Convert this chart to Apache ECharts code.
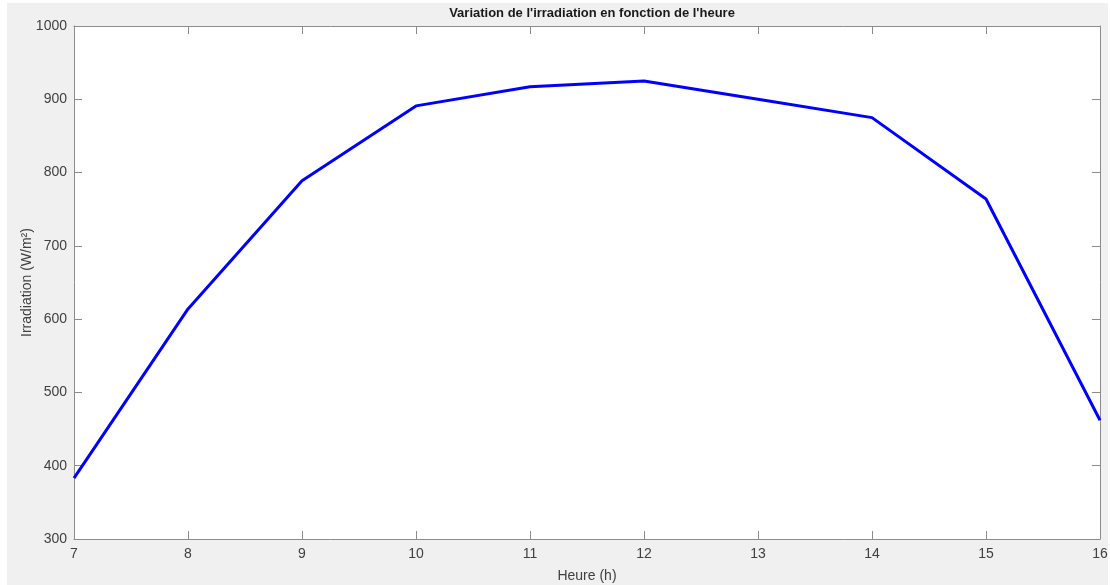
<!DOCTYPE html>
<html>
<head>
<meta charset="utf-8">
<script src="https://cdn.jsdelivr.net/npm/echarts@6/dist/echarts.min.js"></script>
<style>
html,body{margin:0;padding:0;background:#fff;width:1110px;height:585px;overflow:hidden;}
#bg{position:absolute;left:7px;top:3px;width:1101px;height:582px;background:#f0f0f0;}
#chart{position:absolute;left:0;top:0;width:1110px;height:585px;}
</style>
</head>
<body>
<div id="bg"></div>
<div id="chart"></div>
<script>
const hours = [7, 8, 9, 10, 11, 12, 13, 14, 15, 16];
const irradiation = [383, 614, 789, 891, 917, 925, 900, 875, 764, 462];
const titleText = "Variation de l'irradiation en fonction de l'heure";
const xLabel = "Heure (h)";
const yLabel = "Irradiation (W/m²)";

const chart = echarts.init(document.getElementById('chart'), null, {renderer: 'canvas'});
const axisColor = '#8c8c8c';
const labelColor = '#404040';
const font = 'Liberation Sans, Arial, Helvetica, sans-serif';

const xBase = {
  type: 'value', min: 7, max: 16, interval: 1,
  axisLine: {show: true, lineStyle: {color: axisColor, width: 1}},
  axisTick: {show: true, inside: true, length: 8, lineStyle: {color: axisColor}},
  splitLine: {show: false}
};
const yBase = {
  type: 'value', min: 300, max: 1000, interval: 100,
  axisLine: {show: true, lineStyle: {color: axisColor, width: 1}},
  axisTick: {show: true, inside: true, length: 8, lineStyle: {color: axisColor}},
  splitLine: {show: false}
};

chart.setOption({
  animation: false,
  backgroundColor: 'transparent',
  title: {
    text: titleText, left: 587, top: 2, textAlign: 'center',
    textStyle: {fontFamily: font, fontSize: 13, fontWeight: 'bold', color: '#1a1a1a'}
  },
  grid: {left: 74, right: 10, top: 26, bottom: 46, show: true, backgroundColor: '#ffffff',
    borderWidth: 0, containLabel: false, outerBoundsMode: 'none'},
  xAxis: [
    Object.assign({}, xBase, {
      position: 'bottom',
      name: xLabel, nameLocation: 'middle', nameGap: 30, nameMoveOverlap: false,
      nameTextStyle: {fontFamily: font, fontSize: 14, color: labelColor},
      axisLabel: {show: true, margin: 8, fontFamily: font, fontSize: 14, color: labelColor}
    }),
    Object.assign({}, xBase, {position: 'top', axisLabel: {show: false}})
  ],
  yAxis: [
    Object.assign({}, yBase, {
      position: 'left',
      name: yLabel, nameLocation: 'middle', nameGap: 40, nameRotate: 90, nameMoveOverlap: false,
      nameTextStyle: {fontFamily: font, fontSize: 14, color: labelColor},
      axisLabel: {show: true, margin: 7, fontFamily: font, fontSize: 14, color: labelColor,
        formatter: v => String(v)}
    }),
    Object.assign({}, yBase, {position: 'right', axisLabel: {show: false}})
  ],
  series: [{
    type: 'line',
    data: hours.map((h, i) => [h, irradiation[i]]),
    showSymbol: false,
    lineStyle: {color: '#0000ff', width: 3},
    itemStyle: {color: '#0000ff'}
  }]
});
</script>
</body>
</html>
